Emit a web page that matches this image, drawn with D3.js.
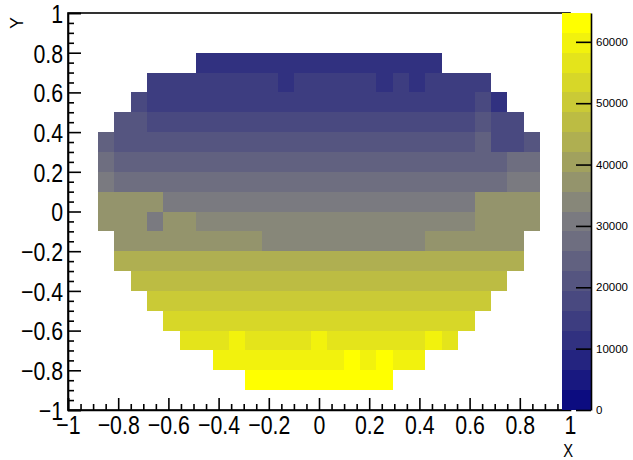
<!DOCTYPE html>
<html>
<head>
<meta charset="utf-8">
<script src="https://cdn.jsdelivr.net/npm/d3@7"></script>
<style>
html, body { margin: 0; padding: 0; background: #fff; }
svg text { font-family: "Liberation Sans", Arial, sans-serif; fill: #000; }
</style>
</head>
<body>
<svg id="chart" width="633" height="460"></svg>
<script>
// bin edges of the 2D histogram (27 columns, 17 rows)
var xEdges = [-0.881, -0.816, -0.750, -0.685, -0.620, -0.555, -0.489, -0.424, -0.359, -0.294,
              -0.228, -0.163, -0.098, -0.033, 0.033, 0.098, 0.163, 0.228, 0.294, 0.359,
              0.424, 0.489, 0.555, 0.620, 0.685, 0.750, 0.816, 0.881];
var yEdges = [0.8, 0.7, 0.6, 0.5, 0.4, 0.3, 0.2, 0.1, 0, -0.1, -0.2, -0.3, -0.4, -0.5, -0.6, -0.7, -0.8, -0.9];

// cell contents, one row per y bin from top to bottom (n = empty bin)
var n = null;
var zRows = [
  [n,n,n,n,n,n, 11300,11300,11300,11300,11300,11300,11300,11300,11300,11300,11300,11300,11300,11300,11300, n,n,n,n,n,n],
  [n,n,n, 14600,14600,14600,14600,14600,14600,14600,14600,11300,14600,14600,14600,14600,14600,11300,14600,11300,14600,14600,14600,14600, n,n,n],
  [n,n, 17800,14600,14600,14600,14600,14600,14600,14600,14600,14600,14600,14600,14600,14600,14600,14600,14600,14600,14600,14600,14600,17800,11300, n,n],
  [n, 21000,21000,17800,17800,17800,17800,17800,17800,17800,17800,17800,17800,17800,17800,17800,17800,17800,17800,17800,17800,17800,17800,21000,17800,17800, n],
  [24300,21000,21000,21000,21000,21000,21000,21000,21000,21000,21000,21000,21000,21000,21000,21000,21000,21000,21000,21000,21000,21000,21000,24300,17800,17800,21000],
  [27500,24300,24300,24300,24300,24300,24300,24300,24300,24300,24300,24300,24300,24300,24300,24300,24300,24300,24300,24300,24300,24300,24300,24300,24300,27500,27500],
  [30700,27500,27500,27500,27500,27500,27500,27500,27500,27500,27500,27500,27500,27500,27500,27500,27500,27500,27500,27500,27500,27500,27500,27500,27500,30700,30700],
  [37200,37200,37200,37200,30700,30700,30700,30700,30700,30700,30700,30700,30700,30700,30700,30700,30700,30700,30700,30700,30700,30700,30700,37200,37200,37200,37200],
  [37200,37200,37200,30700,37200,37200,34000,34000,34000,34000,34000,34000,34000,34000,34000,34000,34000,34000,34000,34000,34000,34000,34000,37200,37200,37200,37200],
  [n, 37200,37200,37200,37200,37200,37200,37200,37200,37200,34000,34000,34000,34000,34000,34000,34000,34000,34000,34000,37200,37200,37200,37200,37200,37200, n],
  [n, 43700,43700,43700,43700,43700,43700,43700,43700,43700,43700,43700,43700,43700,43700,43700,43700,43700,43700,43700,43700,43700,43700,43700,43700,43700, n],
  [n,n, 46900,46900,46900,46900,46900,46900,46900,46900,46900,46900,46900,46900,46900,46900,46900,46900,46900,46900,46900,46900,46900,46900,46900, n,n],
  [n,n,n, 50100,50100,50100,50100,50100,50100,50100,50100,50100,50100,50100,50100,50100,50100,50100,50100,50100,50100,50100,50100,50100, n,n,n],
  [n,n,n,n, 53400,53400,53400,53400,53400,53400,53400,53400,53400,53400,53400,53400,53400,53400,53400,53400,53400,53400,53400, n,n,n,n],
  [n,n,n,n,n, 56600,56600,56600,59800,56600,56600,56600,56600,59800,56600,56600,56600,56600,56600,56600,59800,56600, n,n,n,n,n],
  [n,n,n,n,n,n,n, 59800,59800,59800,59800,59800,59800,59800,59800,63100,59800,63100,59800,59800, n,n,n,n,n,n,n],
  [n,n,n,n,n,n,n,n,n, 63100,63100,63100,63100,63100,63100,63100,63100,63100, n,n,n,n,n,n,n,n,n]
];

var axisTicks = [-1, -0.8, -0.6, -0.4, -0.2, 0, 0.2, 0.4, 0.6, 0.8, 1];
var axisLabels = ["\u22121", "\u22120.8", "\u22120.6", "\u22120.4", "\u22120.2", "0", "0.2", "0.4", "0.6", "0.8", "1"];
var zTicks = [0, 10000, 20000, 30000, 40000, 50000, 60000];
var zMin = 0, zMax = 64700, nContours = 20;

var svg = d3.select("#chart");
var x = d3.scaleLinear().domain([-1, 1]).range([68, 570]);
var y = d3.scaleLinear().domain([-1, 1]).range([410, 13]);
var z = d3.scaleLinear().domain([zMin, zMax]).range([410, 13]);

// blue -> grey -> yellow palette, cut in 20 contour bands
var grad = d3.scaleLinear().domain([0, 0.5, 1]).range(["#0c0c80", "#808080", "#ffff00"]);
var bandColors = d3.range(nContours).map(function(i) { return grad(i / (nContours - 1)); });
var color = d3.scaleQuantize().domain([zMin, zMax]).range(bandColors);

// cells
var cells = [];
zRows.forEach(function(row, j) {
  row.forEach(function(v, i) { if (v !== null) cells.push({ i: i, j: j, v: v }); });
});
svg.append("g").selectAll("rect")
  .data(cells)
  .enter().append("rect")
    .attr("x", function(d) { return x(xEdges[d.i]); })
    .attr("y", function(d) { return y(yEdges[d.j]); })
    .attr("width", function(d) { return x(xEdges[d.i + 1]) - x(xEdges[d.i]); })
    .attr("height", function(d) { return y(yEdges[d.j + 1]) - y(yEdges[d.j]); })
    .attr("fill", function(d) { return color(d.v); })
    .attr("shape-rendering", "crispEdges");

function fmt(d) { return axisLabels[axisTicks.indexOf(d)]; }
var minor = d3.range(-20, 21).map(function(k) { return k * 0.05; })
  .filter(function(v) { return Math.abs(Math.round(v * 5) - v * 5) > 1e-6; });

// x axis, ticks inside the frame
var gx = svg.append("g").attr("transform", "translate(0,410)")
  .call(d3.axisBottom(x).tickValues(axisTicks).tickFormat(fmt).tickSize(-12).tickPadding(6));
svg.append("g").attr("transform", "translate(0,410)")
  .call(d3.axisBottom(x).tickValues(minor).tickFormat("").tickSize(-6))
  .select(".domain").remove();
gx.selectAll("text").attr("font-size", 26).attr("transform", "scale(0.82,1)");

// y axis
var gy = svg.append("g").attr("transform", "translate(68,0)")
  .call(d3.axisLeft(y).tickValues(axisTicks).tickFormat(fmt).tickSize(-13).tickPadding(6));
svg.append("g").attr("transform", "translate(68,0)")
  .call(d3.axisLeft(y).tickValues(minor).tickFormat("").tickSize(-6))
  .select(".domain").remove();
gy.selectAll("text").attr("font-size", 26).attr("dy", "0.36em").attr("transform", "scale(0.82,1)");

svg.selectAll(".tick line").attr("stroke-width", 1.6);
svg.selectAll(".domain").attr("stroke-width", 1.6);

// frame
svg.append("rect").attr("x", 68).attr("y", 13).attr("width", 502).attr("height", 397)
  .attr("fill", "none").attr("stroke", "#000").attr("stroke-width", 1.6);

// axis titles
svg.append("text").attr("x", 573).attr("y", 457).attr("text-anchor", "end")
  .attr("font-size", 18).attr("transform", "translate(573,0) scale(0.82,1) translate(-573,0)").text("X");
svg.append("text").attr("transform", "translate(23,17) rotate(-90)").attr("text-anchor", "end")
  .attr("font-size", 18).text("Y");

// colour palette
var pal = svg.append("g");
pal.selectAll("rect")
  .data(d3.range(nContours))
  .enter().append("rect")
    .attr("x", 562)
    .attr("width", 29)
    .attr("y", function(i) { return z(zMin + (i + 1) * (zMax - zMin) / nContours); })
    .attr("height", function(i) { return z(zMin + i * (zMax - zMin) / nContours) - z(zMin + (i + 1) * (zMax - zMin) / nContours); })
    .attr("fill", function(i) { return bandColors[i]; })
    .attr("shape-rendering", "crispEdges");
var gz = svg.append("g").attr("transform", "translate(591,0)")
  .call(d3.axisRight(z).tickValues(zTicks).tickFormat(d3.format("d")).tickSize(-15).tickPadding(5).tickSizeOuter(0));
gz.selectAll("text").attr("font-size", 11.5);
gz.selectAll(".tick line, .domain").attr("stroke-width", 1.6);
</script>
</body>
</html>
